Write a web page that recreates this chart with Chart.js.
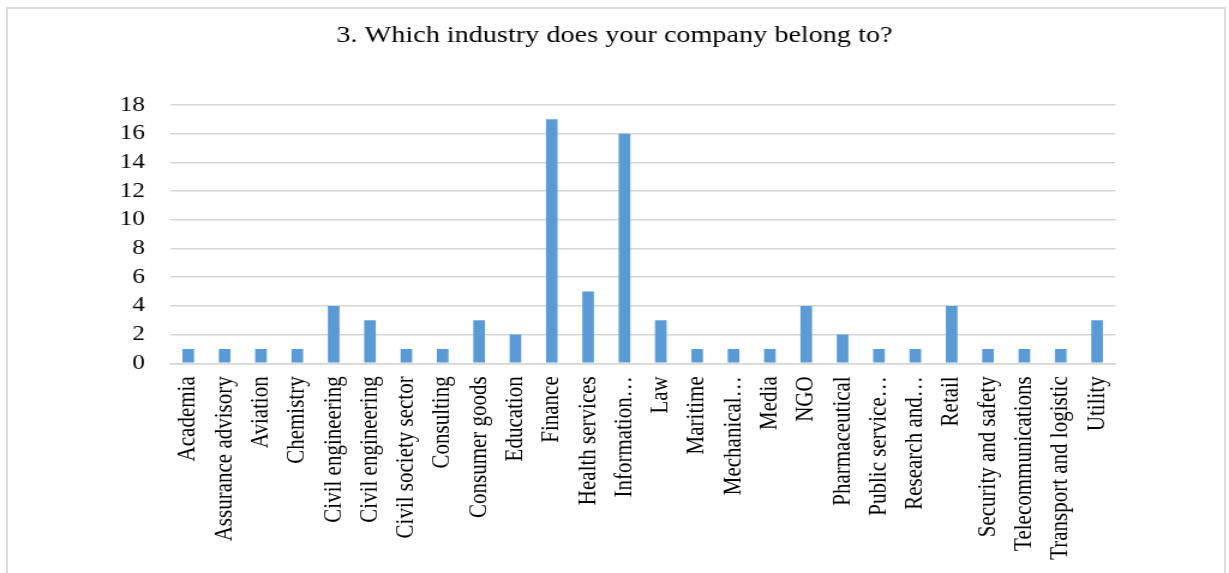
<!DOCTYPE html>
<html>
<head>
<meta charset="utf-8">
<script src="https://cdn.jsdelivr.net/npm/chart.js@4"></script>
<style>
  html, body { margin: 0; padding: 0; background: #ffffff; overflow: hidden; }
  body { width: 1229px; height: 573px; position: relative; }
  #frame {
    position: absolute; left: 6px; top: 7px; width: 1220px; height: 600px;
    border: 2px solid #dcdcdc; box-sizing: border-box;
  }
  #stretch {
    position: absolute; left: 0; top: 0; width: 1024px; height: 573px;
    transform: scaleX(1.2002); transform-origin: 0 0;
  }
</style>
</head>
<body>
<div id="frame"></div>
<div id="stretch"><canvas id="chart" width="1024" height="573"></canvas></div>
<script>
const chartTitle = "3. Which industry does your company belong to?";

const industries = [
  "Academia", "Assurance advisory", "Aviation", "Chemistry",
  "Civil engineering", "Civil engineering", "Civil society sector", "Consulting",
  "Consumer goods", "Education", "Finance", "Health services",
  "Information…", "Law", "Maritime", "Mechanical…",
  "Media", "NGO", "Pharmaceutical", "Public service…",
  "Research and…", "Retail", "Security and safety", "Telecommunications",
  "Transport and logistic", "Utility"
];

const responses = [
  1, 1, 1, 1,
  4, 3, 1, 1,
  3, 2, 17, 5,
  16, 3, 1, 1,
  1, 4, 2, 1,
  1, 4, 1, 1,
  1, 3
];

const yTicks = [0, 2, 4, 6, 8, 10, 12, 14, 16, 18];

const serif = "'Liberation Serif', 'Times New Roman', serif";

new Chart(document.getElementById("chart"), {
  type: "bar",
  data: {
    labels: industries,
    datasets: [{
      data: responses,
      backgroundColor: "#5b9bd5",
      borderWidth: 0,
      categoryPercentage: 1.0,
      barPercentage: 0.32
    }]
  },
  options: {
    responsive: false,
    animation: false,
    layout: { padding: 0 },
    plugins: {
      legend: { display: false },
      tooltip: { enabled: false },
      title: {
        display: true,
        text: chartTitle,
        color: "#000000",
        font: { family: serif, size: 23.5, weight: "normal", lineHeight: 1.2 },
        padding: { top: 21.4, bottom: 55.4 }
      }
    },
    scales: {
      x: {
        offset: true,
        grid: { display: false, drawTicks: false },
        border: { display: true, color: "#d6d6d6", width: 1.5 },
        ticks: {
          autoSkip: false,
          maxRotation: 90,
          minRotation: 90,
          padding: 13,
          color: "#000000",
          font: { family: serif, size: 21 }
        },
        afterFit: (scale) => { scale.height = 573 - 363.3; }
      },
      y: {
        min: 0,
        max: 18,
        afterBuildTicks: (scale) => { scale.ticks = yTicks.map(v => ({ value: v })); },
        grid: { color: "#d6d6d6", lineWidth: 1.5, drawTicks: false },
        border: { display: false },
        ticks: {
          padding: 21,
          color: "#000000",
          font: { family: serif, size: 21 }
        },
        afterFit: (scale) => { scale.width = 141.7; }
      },
      // empty right-hand margin beside the plot
      yRight: {
        position: "right",
        display: true,
        min: 0,
        max: 18,
        grid: { display: false, drawTicks: false },
        border: { display: false },
        ticks: { display: false },
        afterFit: (scale) => { scale.width = 94.8; }
      }
    }
  }
});
</script>
</body>
</html>
